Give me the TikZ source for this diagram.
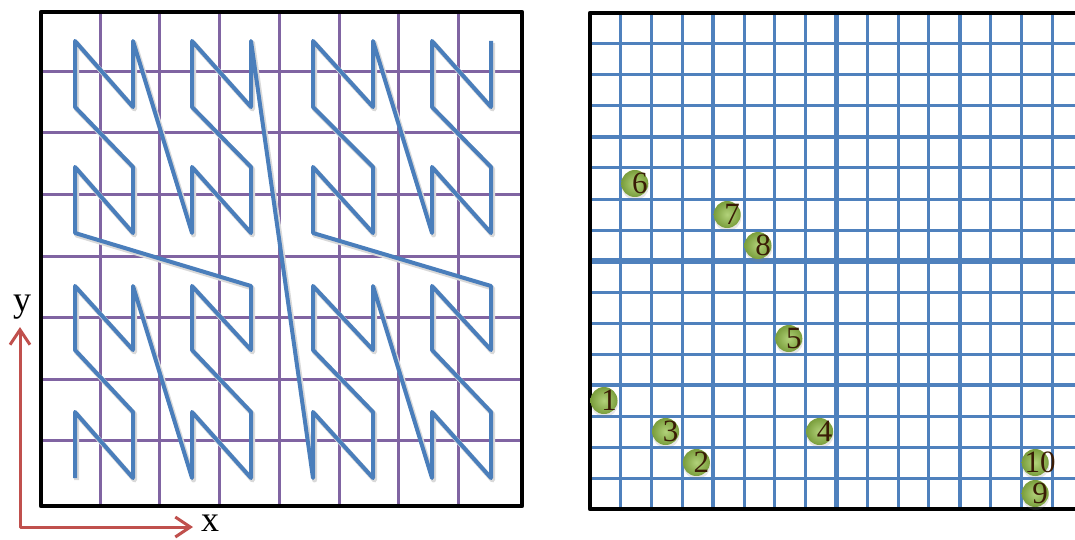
\documentclass[tikz,border=0pt]{standalone}
\usepackage{fontspec}
\setmainfont{Liberation Serif}
\usetikzlibrary{arrows.meta,shadows}
\definecolor{zblue}{HTML}{4A7EBB}
\definecolor{gridpurple}{HTML}{8064A2}
\definecolor{gridblue}{HTML}{4F81BD}
\definecolor{axisred}{HTML}{C0504D}
\definecolor{balllight}{HTML}{B2D27A}
\definecolor{balldark}{HTML}{7A9E3C}
\definecolor{numbrown}{HTML}{3A1C06}
\newcommand{\axisfont}{\fontsize{36}{38}\selectfont}
\newcommand{\numfont}{\fontsize{31}{33}\selectfont}

\begin{document}
\begin{tikzpicture}[x=1pt,y=-1pt,line join=round,
  frame/.style={black,line width=4.2pt},
  cellline/.style={gridpurple,line width=3pt},
  fineline/.style={gridblue,line width=3pt},
  midline/.style={gridblue,line width=4pt},
  boldline/.style={gridblue,line width=5.5pt},
  zcurve/.style={zblue,line width=4pt,
    preaction={draw=black!15,line width=5pt,transform canvas={shift={(1.5pt,-2pt)}}}},
  ball/.style={circle,minimum size=27pt,inner sep=0,shading=radial,
    inner color=balllight,outer color=balldark,
    drop shadow={shadow xshift=0.5pt,shadow yshift=-3pt,opacity=0.2}},
  num/.style={inner sep=0,text=numbrown,font=\numfont},
  axisarrow/.style={axisred,line width=3pt,{Straight Barb[length=15pt,width=20pt]}-{Straight Barb[length=15pt,width=20pt]}},
  axislabel/.style={inner sep=0,font=\axisfont}]
\useasboundingbox (0,0) rectangle (1075,540);
\clip (0,0) rectangle (1075,540);

% left panel: 8x8 cells and the Z-order curve
\foreach \k in {1,...,7}{
  \draw[cellline] (40.5+59.7*\k,12) -- (40.5+59.7*\k,506);
  \draw[cellline] (41,10+61.5*\k) -- (522,10+61.5*\k);
}
\draw[frame] (41,12) rectangle (522,506);
\foreach \i in {0,...,63}{
  \pgfmathtruncatemacro{\ix}{mod(int(\i/2),2)+2*mod(int(\i/8),2)+4*mod(int(\i/32),2)}
  \pgfmathtruncatemacro{\iy}{mod(\i,2)+2*mod(int(\i/4),2)+4*mod(int(\i/16),2)}
  \pgfmathsetmacro{\px}{{75,133,192,251,313,373,432,491}[\ix]}
  \pgfmathsetmacro{\py}{{478,412,350,286,233,167,107,41}[\iy]}
  \coordinate (z\i) at (\px,\py);
}
\draw[zcurve] (z0) \foreach \i in {1,...,63}{ -- (z\i)};

% right panel: quadtree grid with points
\foreach \k in {1,...,15}{
  \draw[fineline] (590+30.8*\k,13) -- (590+30.8*\k,509);
  \draw[fineline] (590,13+31*\k) -- (1083,13+31*\k);
}
\foreach \k in {4,12}{
  \draw[midline] (590+30.8*\k,13) -- (590+30.8*\k,509);
  \draw[midline] (590,13+31*\k) -- (1083,13+31*\k);
}
\draw[boldline] (590+30.8*8,13) -- (590+30.8*8,509);
\draw[boldline] (590,13+31*8) -- (1083,13+31*8);
\draw[frame] (590,13) rectangle (1083,509);
\foreach \n/\gx/\gy in {1/0/3,2/3/1,3/2/2,4/7/2,5/6/5,6/1/10,7/4/9,8/5/8,9/14/0,10/14/1}{
  \node[ball] (b\n) at (590+30.8*\gx+14,509-31*\gy-15.5) {};
  \node[num] (n\n) at ([xshift=5pt]b\n.center) {\n};
}

% axes
\coordinate (ytip) at (20,327);
\coordinate (xtip) at (193,527);
\draw[axisarrow] (ytip) |- (xtip);
\node[axislabel,anchor=base] (ylab) at (22,311) {y};
\node[axislabel,anchor=base] (xlab) at (210,531) {x};
\end{tikzpicture}
\end{document}
